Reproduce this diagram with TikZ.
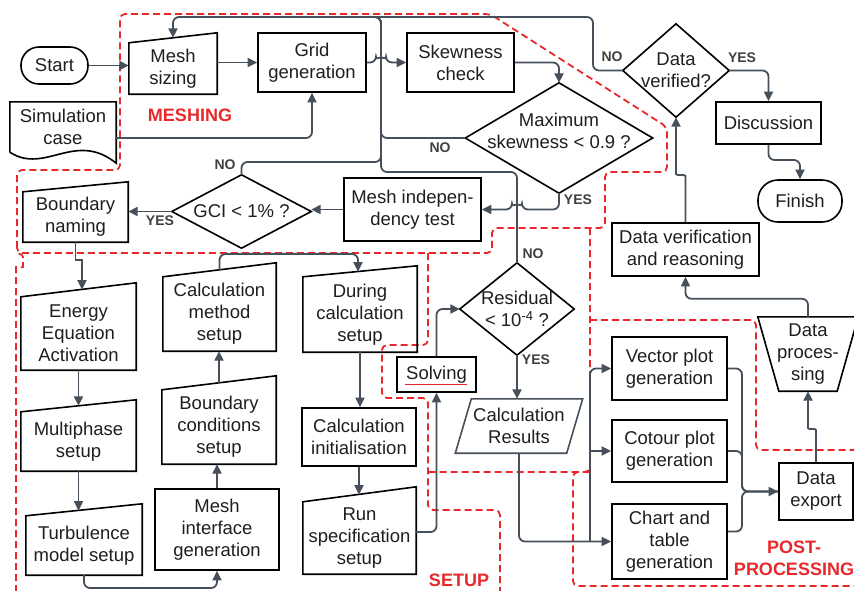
\documentclass[tikz,border=0pt]{standalone}
\usepackage{fontspec}
\setmainfont{Liberation Sans}
\usetikzlibrary{arrows.meta,calc}
\definecolor{conncol}{HTML}{474F5A}
\definecolor{redd}{HTML}{E8282B}
\definecolor{txtc}{HTML}{1E1E1E}
\definecolor{lblc}{HTML}{3F3F3F}
\begin{document}
\begin{tikzpicture}[x=1pt,y=-1pt,
 nd/.style={inner sep=0pt, align=center, font=\fontsize{18.5}{22}\selectfont, text=txtc},
 rbox/.style={nd, draw=black, line width=1.6pt},
 shp/.style={draw=black, line width=1.6pt},
 conn/.style={draw=conncol, line width=1.8pt, rounded corners=6pt},
 arr/.style={conn, -{Triangle[length=9.5pt,width=9pt]}},
 lbl/.style={inner sep=0pt, font=\fontsize{14}{16}\selectfont\bfseries, text=lblc},
 reg/.style={draw=redd, line width=1.8pt, dash pattern=on 7pt off 4pt, rounded corners=5pt},
 regl/.style={inner sep=0pt, font=\fontsize{18}{22}\selectfont\bfseries, text=redd, align=center},
]
\useasboundingbox (0,0) rectangle (854,590);

% ---------- red regions ----------
\draw[reg] (17,253) -- (17,170) -- (120,170) -- (120,14) -- (490,14) -- (667,127) -- (667,172) -- (605,172) -- (605,228) -- (492,228) -- (492,253) -- cycle;
\draw[reg] (16,592) -- (16,272) .. controls (16,266) and (23,268) .. (23,262) .. controls (23,256) and (22,254) .. (16,253);
\draw[reg] (428,253) -- (428,345) -- (382,345) -- (382,398) -- (428,398) -- (428,510) -- (500,510) -- (500,594);
\draw[reg] (590,228) -- (590,472) -- (428,472);
\draw[reg] (590,320) -- (756,320) -- (756,450) -- (858,450);
\draw[reg] (590,472) -- (573,472) -- (573,586) -- (858,586);

\node[regl] (rm) at (190,115) {MESHING};
\node[regl] (rs) at (459,580) {SETUP};
\node[regl] (rp) at (794,558) {POST-\\PROCESSING};

% ---------- nodes ----------
\node[rbox, rounded corners=18pt, minimum width=67pt, minimum height=37pt] (start) at (54.5,65.5) {Start};

\node[nd, minimum width=88pt, minimum height=51pt] (msz) at (173,68.5) {Mesh\\sizing};
\draw[shp] (msz.south west) -- (msz.south east) -- ([yshift=10pt]msz.north east) -- (msz.north west) -- cycle;

\node[rbox, minimum width=108pt, minimum height=59pt] (grid) at (312,62.5) {Grid\\generation};
\node[rbox, minimum width=107pt, minimum height=59pt] (skew) at (460.5,62.5) {Skewness\\check};

\node[nd, minimum width=106pt, minimum height=50pt] (simc) at (63,127) {Simulation\\case};
\draw[shp] (simc.south west) -- (simc.north west) -- (simc.north east) -- ([yshift=-11pt]simc.south east) .. controls (75,130) and (45,175) .. (simc.south west);

\node[nd, minimum width=187pt, minimum height=110pt] (mxs) at (559,138) {};
\draw[shp] (mxs.north) -- (mxs.east) -- (mxs.south) -- (mxs.west) -- cycle;
\node[nd] (mxst) at (559,131) {Maximum\\skewness < 0.9 ?};

\node[nd, minimum width=106pt, minimum height=93pt] (dv) at (676,70.5) {Data\\verified?};
\draw[shp] (dv.north) -- (dv.east) -- (dv.south) -- (dv.west) -- cycle;

\node[rbox, minimum width=105pt, minimum height=42pt] (disc) at (768.5,123) {Discussion};
\node[rbox, rounded corners=20pt, minimum width=84pt, minimum height=42pt] (finish) at (800,201) {Finish};

\node[nd, minimum width=139pt, minimum height=73pt] (gci) at (241.5,211.5) {GCI < 1\% ?};
\draw[shp] (gci.north) -- (gci.east) -- (gci.south) -- (gci.west) -- cycle;

\node[rbox, minimum width=137pt, minimum height=63pt] (mit) at (412.5,209.5) {Mesh indepen-\\dency test};

\node[nd, minimum width=105pt, minimum height=50pt] (bnd) at (75.5,217) {Boundary\\naming};
\draw[shp] (bnd.south west) -- (bnd.south east) -- ([yshift=10pt]bnd.north east) -- (bnd.north west) -- cycle;

\node[nd, minimum width=115pt, minimum height=73pt] (energy) at (78.5,333.5) {Energy\\Equation\\Activation};
\draw[shp] (energy.south west) -- (energy.south east) -- ([yshift=14pt]energy.north east) -- (energy.north west) -- cycle;

\node[nd, minimum width=113pt, minimum height=74pt] (cmeth) at (219.5,314) {Calculation\\method\\setup};
\draw[shp] (cmeth.south west) -- (cmeth.south east) -- ([yshift=14pt]cmeth.north east) -- (cmeth.north west) -- cycle;

\node[nd, minimum width=115pt, minimum height=59pt] (multi) at (78.5,441.5) {Multiphase\\setup};
\draw[shp] (multi.south west) -- (multi.south east) -- ([yshift=12pt]multi.north east) -- (multi.north west) -- cycle;

\node[nd, minimum width=116pt, minimum height=59pt] (turb) at (84,545.5) {Turbulence\\model setup};
\draw[shp] (turb.south west) -- (turb.south east) -- ([yshift=12pt]turb.north east) -- (turb.north west) -- cycle;

\node[nd, minimum width=114pt, minimum height=74pt] (bcs) at (219,427) {Boundary\\conditions\\setup};
\draw[shp] (bcs.south west) -- (bcs.south east) -- ([yshift=14pt]bcs.north east) -- (bcs.north west) -- cycle;

\node[rbox, minimum width=124pt, minimum height=81pt] (mig) at (217,529.5) {Mesh\\interface\\generation};

\node[nd, minimum width=114pt, minimum height=75pt] (during) at (360,314.5) {During\\calculation\\setup};
\draw[shp] (during.south west) -- (during.south east) -- ([yshift=11pt]during.north east) -- (during.north west) -- cycle;

\node[rbox, minimum width=114pt, minimum height=58pt] (cinit) at (359,437) {Calculation\\initialisation};

\node[nd, minimum width=113pt, minimum height=72pt] (runspec) at (359.5,538) {Run\\specification\\setup};
\draw[shp] (runspec.south west) -- (runspec.south east) -- ([yshift=15pt]runspec.north east) -- (runspec.north west) -- cycle;

\node[rbox, minimum width=79pt, minimum height=35pt] (solv) at (436.5,374.5) {Solving};
\draw[redd, line width=0.7pt] (405,384) -- (467,384);

\node[nd, minimum width=114pt, minimum height=92pt] (res) at (517,309) {Residual\\< 10\textsuperscript{-4} ?};
\draw[shp] (res.north) -- (res.east) -- (res.south) -- (res.west) -- cycle;

\node[nd, minimum width=111pt, minimum height=54pt] (cres) at (519,426) {Calculation\\Results};
\draw[draw=conncol, line width=1.6pt] ([xshift=-8pt]cres.south west) -- ([xshift=-8pt]cres.south east) -- ([xshift=8pt]cres.north east) -- ([xshift=8pt]cres.north west) -- cycle;

\node[rbox, minimum width=147pt, minimum height=53pt] (dvr) at (685.5,249.5) {Data verification\\and reasoning};

\node[nd, minimum width=79pt, minimum height=74pt] (dproc) at (808,354) {Data\\proces-\\sing};
\draw[shp] ([xshift=-10.5pt]dproc.north west) -- ([xshift=10.5pt]dproc.north east) -- ([xshift=-10.5pt]dproc.south east) -- ([xshift=10.5pt]dproc.south west) -- cycle;

\node[rbox, minimum width=115pt, minimum height=63pt] (vec) at (669.5,368.5) {Vector plot\\generation};
\node[rbox, minimum width=115pt, minimum height=62pt] (cot) at (669.5,451) {Cotour plot\\generation};
\node[rbox, minimum width=115pt, minimum height=75pt] (chart) at (669.5,541.5) {Chart and\\table\\generation};
\node[rbox, minimum width=74pt, minimum height=57pt] (dexp) at (816,491.5) {Data\\export};

% ---------- labels ----------
\node[lbl] (l1) at (225,165) {NO};
\node[lbl] (l2) at (160,221) {YES};
\node[lbl] (l3) at (440,148) {NO};
\node[lbl] (l4) at (578,200) {YES};
\node[lbl] (l5) at (612,57) {NO};
\node[lbl] (l6) at (742,58) {YES};
\node[lbl] (l7) at (533,254) {NO};
\node[lbl] (l8) at (536,360) {YES};

% ---------- connectors ----------
\coordinate (vl) at (381,17);
\draw[arr] (start.east) -- (start.east -| msz.west);
\draw[arr] (msz.east |- grid.west) -- (grid.west);
\draw[arr] ([yshift=-11pt]simc.east) -| (grid.south);
\draw[arr] (grid.east) -- ([xshift=-5pt]grid.east -| vl) arc[start angle=180,end angle=0,radius=5pt] -- (skew.west);
\draw[arr] (skew.east) -| (mxs.north);
\draw[conn] (mxs.west) -| (vl) -- (355,17);
\draw[conn] (gci.north) |- (381,162) -- (vl) -- (355,17);
\draw[conn] (res.north) |- (381,172) -- (vl) -- (355,17);
\draw[arr] (dv.west) -| (593,17) -| ([yshift=5pt]msz.north);
\draw[arr] (mxs.south) |- ([xshift=5pt]res.north |- mit.east) arc[start angle=0,end angle=180,radius=5pt] -- (mit.east);
\draw[arr] (mit.west) -- (mit.west -| gci.east);
\draw[arr] (gci.west) -- (gci.west -| bnd.east);
\draw[arr] (bnd.south) -- ++(0,12) .. controls +(0,6) and +(0,-6) .. ++(6.5,12) -- (82,289.6);
\draw[arr] (energy.south) -- ([yshift=6pt]multi.north);
\draw[arr] (multi.south) -- (78.5,510.6);
\draw[arr] (turb.south) -- (84,588) -| (mig.south);
\draw[arr] (mig.north) -- (mig.north |- bcs.south);
\draw[arr] ([yshift=7pt]bcs.north) -- (bcs.north |- cmeth.south);
\draw[arr] ([yshift=7pt]cmeth.north) |- (358,254) -- (358,271.7);
\draw[arr] (during.south) -- (during.south |- cinit.north);
\draw[arr] (cinit.south) -- (359,494.6);
\draw[arr] ([yshift=6pt]runspec.east) -| (solv.south);
\draw[arr] (solv.north) |- (res.west);
\draw[arr] (res.south) -- (res.south |- cres.north);
\draw[arr] (cres.south) |- (chart.west);
\coordinate (br) at (590,541.5);
\draw[arr] (br) |- (vec.west);
\draw[arr] (br |- cot.west) -- (cot.west);
\coordinate (mg) at (742,491.5);
\draw[conn] (vec.east) -| (mg) -- (dexp.west);
\draw[conn] (cot.east) -| (mg) -- (dexp.west);
\draw[arr] ([yshift=10pt]chart.east) -| (mg) -- (dexp.west);
\draw[arr] (dexp.north) -- (816,436) .. controls (816,428) and (808,430) .. (808,422) -- (dproc.south);
\draw[arr] (dproc.north) |- ([yshift=-22pt]dvr.south) -- (dvr.south);
\draw[arr] (dvr.north) -- (685.5,182) .. controls (685.5,174) and (676,176) .. (676,168) -- (dv.south);
\draw[arr] (dv.east) -| (disc.north);
\draw[arr] (disc.south) |- (800,160) -- (finish.north);
\end{tikzpicture}
\end{document}
